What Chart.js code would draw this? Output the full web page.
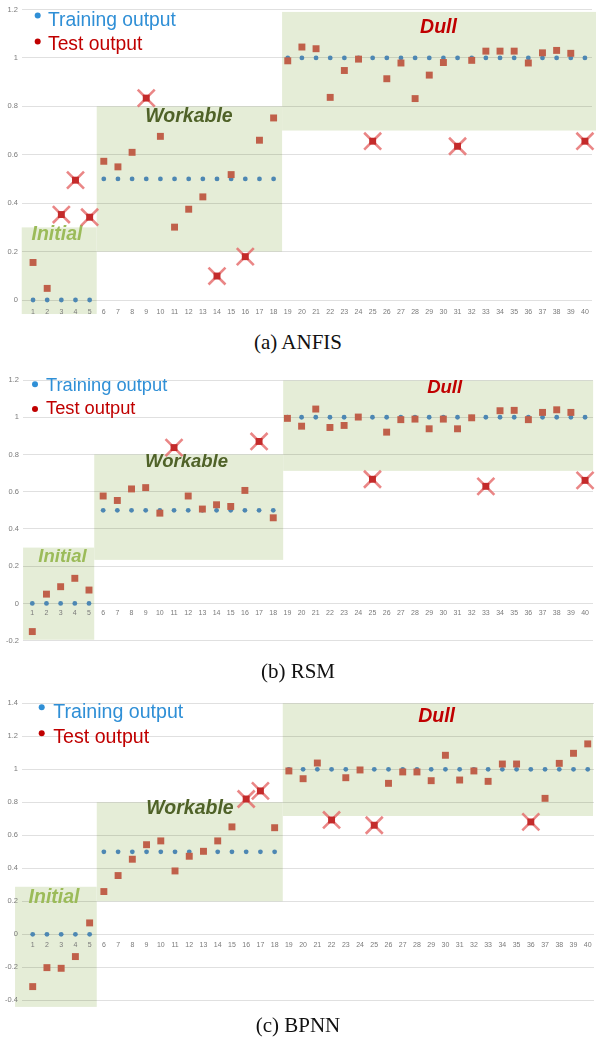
<!DOCTYPE html>
<html>
<head>
<meta charset="utf-8">
<script src="https://cdn.jsdelivr.net/npm/chart.js@4.4.1/dist/chart.umd.min.js"></script>
<style>
  html, body { margin: 0; padding: 0; background: #fff; }
  body { position: relative; width: 596px; height: 1043px; overflow: hidden; }
  .panel { position: absolute; left: 0; width: 596px; }
  .cap { position: absolute; left: 0; width: 596px; text-align: center;
         font-family: "Liberation Serif", "Times New Roman", serif; font-size: 21px;
         line-height: 21px; color: #111; }
</style>
</head>
<body>
<div class="panel" style="top:0px;height:330px"><canvas id="chartAnfis" width="596" height="330"></canvas></div>
<div class="panel" style="top:360px;height:300px"><canvas id="chartRsm" width="596" height="300"></canvas></div>
<div class="panel" style="top:690px;height:330px"><canvas id="chartBpnn" width="596" height="330"></canvas></div>
<div class="cap" style="top:332px">(a) ANFIS</div>
<div class="cap" style="top:661px">(b) RSM</div>
<div class="cap" style="top:1015px">(c) BPNN</div>

<script>
// ---- data -------------------------------------------------------------
const sampleNo = [1,2,3,4,5,6,7,8,9,10,11,12,13,14,15,16,17,18,19,20,
                  21,22,23,24,25,26,27,28,29,30,31,32,33,34,35,36,37,38,39,40];

// target tool-wear class used for training (0 initial, 0.5 workable, 1 dull)
const trainingOutput = [0,0,0,0,0,
                        0.5,0.5,0.5,0.5,0.5,0.5,0.5,0.5,0.5,0.5,0.5,0.5,0.5,
                        1,1,1,1,1,1,1,1,1,1,1,1,1,1,1,1,1,1,1,1,1,1];

const anfisTest = [0.155,0.048,0.353,0.495,0.342,0.573,0.55,0.61,0.834,0.676,
                   0.301,0.375,0.426,0.099,0.518,0.179,0.66,0.752,0.988,1.045,
                   1.038,0.837,0.948,0.995,0.656,0.914,0.979,0.832,0.929,0.981,
                   0.635,0.99,1.028,1.028,1.028,0.979,1.021,1.031,1.019,0.656];
const anfisMisclassified = [3,4,5,9,14,16,25,31,40];

const rsmTest = [-0.151,0.05,0.09,0.135,0.072,0.577,0.553,0.615,0.622,0.485,
                 0.837,0.577,0.507,0.53,0.521,0.607,0.87,0.46,0.994,0.952,
                 1.044,0.945,0.956,1.001,0.667,0.92,0.987,0.99,0.938,0.99,
                 0.938,0.997,0.629,1.035,1.037,0.987,1.026,1.04,1.026,0.661];
const rsmMisclassified = [11,17,25,33,40];

const bpnnTest = [-0.317,-0.202,-0.206,-0.135,0.069,0.259,0.356,0.455,0.543,0.566,
                  0.384,0.473,0.503,0.566,0.651,0.82,0.869,0.646,0.99,0.943,
                  1.038,0.693,0.949,0.996,0.661,0.915,0.984,0.984,0.931,1.085,
                  0.935,0.99,0.927,1.032,1.032,0.681,0.824,1.036,1.097,1.154];
const bpnnMisclassified = [16,17,22,25,36];

const zoneNames = ['Initial', 'Workable', 'Dull'];
const legendNames = ['Training output', 'Test output'];

// ---- styling ------------------------------------------------------------
const ZONE_FILL = '#e5edd7';
const ZONE_TEXT = { Initial: '#9bbb59', Workable: '#4f6228', Dull: '#c00000' };
const TRAIN_DOT = '#4d87b3';
const TEST_SQ = '#c0604a';
const TEST_SQ_BAD = '#c42a2a';
const CROSS = 'rgba(228,100,100,0.78)';
const LEGEND_BLUE = '#2f8fd6';
const LEGEND_RED = '#c00000';
const SANS = '"Liberation Sans", Arial, sans-serif';

// Shaded wear-state bands, class labels and the in-plot legend
const wearZones = {
  id: 'wearZones',
  beforeDraw(chart, args, o) {
    const { ctx, scales: { x, y } } = chart;
    ctx.save();
    ctx.fillStyle = ZONE_FILL;
    o.zones.forEach(z => {
      const x0 = x.getPixelForValue(z.x0), x1 = x.getPixelForValue(z.x1);
      const y0 = y.getPixelForValue(z.y0), y1 = y.getPixelForValue(z.y1);
      ctx.fillRect(x0, y1, x1 - x0, y0 - y1);
    });
    ctx.restore();
  },
  beforeDatasetsDraw(chart, args, o) {
    const { ctx, scales: { x, y } } = chart;
    ctx.save();
    ctx.textAlign = 'center';
    ctx.textBaseline = 'middle';
    ctx.font = `italic bold ${o.zoneFont}px ${SANS}`;
    o.zones.forEach(z => {
      ctx.fillStyle = ZONE_TEXT[z.name];
      ctx.fillText(z.name, x.getPixelForValue(z.lx), y.getPixelForValue(z.ly));
    });
    // legend
    ctx.textAlign = 'left';
    ctx.textBaseline = 'alphabetic';
    ctx.font = `${o.legendFont}px ${SANS}`;
    const L = o.legend;
    [[LEGEND_BLUE, 0], [LEGEND_RED, 1]].forEach(([c, i]) => {
      ctx.fillStyle = c;
      ctx.beginPath();
      ctx.arc(L.dotX, L.dotY[i], 3, 0, Math.PI * 2);
      ctx.fill();
      ctx.fillText(legendNames[i], L.textX, L.base[i]);
    });
    ctx.restore();
  }
};

// nudge the layout padding until the plot box sits on the wanted frame
function fitPlotArea(chart, area) {
  for (let k = 0; k < 4; k++) {
    const ca = chart.chartArea;
    const d = { top: area.top - ca.top, bottom: ca.bottom - area.bottom,
                left: area.left - ca.left, right: ca.right - area.right };
    if (Math.max(...Object.values(d).map(Math.abs)) < 0.25) break;
    const p = chart.config.options.layout.padding;
    chart.config.options.layout.padding = {
      top: p.top + d.top, bottom: p.bottom + d.bottom,
      left: p.left + d.left, right: p.right + d.right
    };
    chart.update();
  }
}

function buildChart(id, test, flagged, cfg) {
  const bad = new Set(flagged);
  const trainPts = sampleNo.map((n, i) => ({ x: n, y: trainingOutput[i] }));
  const testPts = sampleNo.map((n, i) => ({ x: n, y: test[i] }));
  const crossPts = flagged.map(n => ({ x: n, y: test[n - 1] }));
  const testColors = sampleNo.map(n => bad.has(n) ? TEST_SQ_BAD : TEST_SQ);
  const canvas = document.getElementById(id);

  const chart = new Chart(canvas, {
    type: 'scatter',
    data: {
      datasets: [
        { label: legendNames[1], data: testPts, order: 0, clip: false,
          pointStyle: 'rect', pointRadius: 4.9, pointHoverRadius: 4.9,
          backgroundColor: testColors, borderColor: testColors, borderWidth: 0 },
        { label: 'misclassified', data: crossPts, order: 1, clip: false,
          pointStyle: 'crossRot', pointRadius: 12, pointHoverRadius: 12,
          borderColor: CROSS, borderWidth: 2.6 },
        { label: legendNames[0], data: trainPts, order: 2, clip: false,
          pointStyle: 'circle', pointRadius: 2.4, pointHoverRadius: 2.4,
          backgroundColor: TRAIN_DOT, borderColor: TRAIN_DOT, borderWidth: 0 }
      ]
    },
    options: {
      responsive: false,
      animation: false,
      events: [],
      layout: { autoPadding: false,
                padding: { top: cfg.area.top, bottom: canvas.height - cfg.area.bottom,
                           left: 0, right: canvas.width - cfg.area.right } },
      plugins: {
        legend: { display: false },
        tooltip: { enabled: false },
        wearZones: { zones: cfg.zones, legend: cfg.legend,
                     zoneFont: cfg.zoneFont, legendFont: cfg.legendFont }
      },
      scales: {
        x: {
          type: 'linear',
          position: { y: 0 },
          min: cfg.xMin, max: cfg.xMax,
          afterBuildTicks: s => { s.ticks = sampleNo.map(v => ({ value: v })); },
          afterFit: s => { s.paddingLeft = 0; s.paddingRight = 0; },
          grid: { display: false, drawTicks: false },
          border: { display: false },
          ticks: { autoSkip: false, maxRotation: 0, padding: cfg.xPad,
                   color: '#7a7a7a', font: { family: SANS, size: 7 },
                   callback: v => String(v) }
        },
        y: {
          position: 'left',
          min: cfg.yMin, max: cfg.yMax,
          afterFit: s => { s.width = cfg.area.left; s.paddingTop = 0; s.paddingBottom = 0; },
          grid: { color: 'rgba(0,0,0,0.12)', lineWidth: 1, drawTicks: false },
          border: { display: false },
          ticks: { stepSize: 0.2, padding: 4, color: '#7a7a7a',
                   font: { family: SANS, size: 7.5 },
                   callback: v => String(Math.round(v * 10) / 10) }
        }
      }
    },
    plugins: [wearZones]
  });
  fitPlotArea(chart, cfg.area);
  return chart;
}

buildChart('chartAnfis', anfisTest, anfisMisclassified, {
  xMin: 0.22, xMax: 40.5, yMin: 0, yMax: 1.2, xPad: 8,
  area: { left: 22, right: 592, top: 9.5, bottom: 300 },
  zoneFont: 19.5, legendFont: 19.3,
  zones: [
    { name: zoneNames[0], x0: 0.2,  x1: 5.5,  y0: -0.058, y1: 0.3,  lx: 2.69,  ly: 0.272 },
    { name: zoneNames[1], x0: 5.5,  x1: 18.6, y0: 0.2,    y1: 0.8,  lx: 12.02, ly: 0.759 },
    { name: zoneNames[2], x0: 18.6, x1: 40.8, y0: 0.7,    y1: 1.19, lx: 29.65, ly: 1.126 }
  ],
  legend: { dotX: 37.7, dotY: [15.5, 41.5], textX: 48, base: [25.5, 50] }
});

buildChart('chartRsm', rsmTest, rsmMisclassified, {
  xMin: 0.344, xMax: 40.56, yMin: -0.2, yMax: 1.2, xPad: 5.5,
  area: { left: 23, right: 593, top: 20, bottom: 280.7 },
  zoneFont: 18.5, legendFont: 18.3,
  zones: [
    { name: zoneNames[0], x0: 0.35, x1: 5.37, y0: -0.195, y1: 0.3,   lx: 3.13,  ly: 0.248 },
    { name: zoneNames[1], x0: 5.37, x1: 18.7, y0: 0.234,  y1: 0.8,   lx: 11.88, ly: 0.758 },
    { name: zoneNames[2], x0: 18.7, x1: 40.57, y0: 0.712, y1: 1.197, lx: 30.09, ly: 1.157 }
  ],
  legend: { dotX: 35, dotY: [24.3, 49], textX: 46, base: [30.7, 54] }
});

buildChart('chartBpnn', bpnnTest, bpnnMisclassified, {
  xMin: 0.248, xMax: 40.44, yMin: -0.4, yMax: 1.4, xPad: 6.5,
  area: { left: 22, right: 594, top: 13.3, bottom: 310.3 },
  zoneFont: 19.5, legendFont: 19.6,
  zones: [
    { name: zoneNames[0], x0: -0.24, x1: 5.5,   y0: -0.44, y1: 0.288, lx: 2.5,   ly: 0.222 },
    { name: zoneNames[1], x0: 5.5,   x1: 18.57, y0: 0.2,   y1: 0.8,   lx: 12.05, ly: 0.759 },
    { name: zoneNames[2], x0: 18.57, x1: 40.37, y0: 0.717, y1: 1.4,   lx: 29.38, ly: 1.317 }
  ],
  legend: { dotX: 41.7, dotY: [17.3, 43.3], textX: 53.3, base: [28.3, 52.7] }
});
</script>
</body>
</html>
